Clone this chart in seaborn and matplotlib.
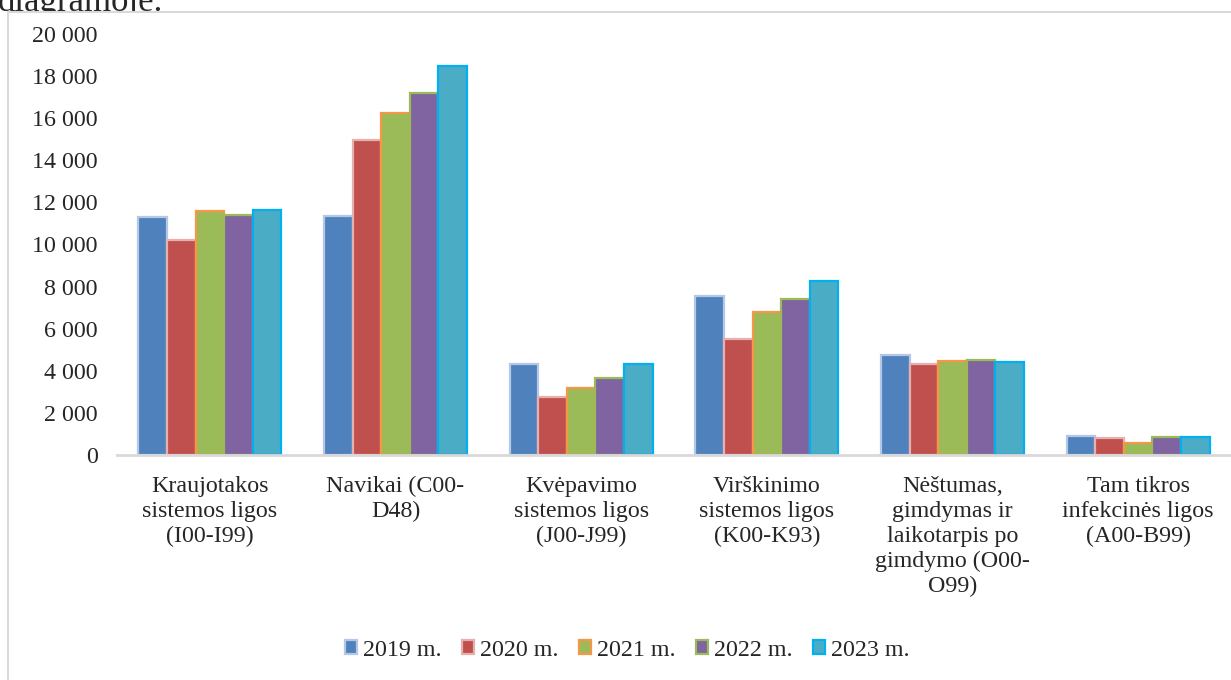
import numpy as np
import pandas as pd
import matplotlib.pyplot as plt
import seaborn as sns
from matplotlib.ticker import FuncFormatter
from matplotlib.patches import Rectangle

categories = [
    "Kraujotakos\nsistemos ligos\n(I00-I99)",
    "Navikai (C00-\nD48)",
    "Kvėpavimo\nsistemos ligos\n(J00-J99)",
    "Virškinimo\nsistemos ligos\n(K00-K93)",
    "Nėštumas,\ngimdymas ir\nlaikotarpis po\ngimdymo (O00-\nO99)",
    "Tam tikros\ninfekcinės ligos\n(A00-B99)",
]
years = ["2019 m.", "2020 m.", "2021 m.", "2022 m.", "2023 m."]

v2019 = [11300, 11350, 4300, 7550, 4750, 920]
v2020 = [10200, 14950, 2750, 5500, 4300, 810]
v2021 = [11600, 16250, 3200, 6800, 4450, 570]
v2022 = [11400, 17200, 3650, 7400, 4500, 855]
v2023 = [11650, 18500, 4300, 8250, 4400, 855]

fill_colors = ["#4F81BD", "#C0504D", "#9BBB59", "#8064A2", "#4BACC6"]
edge_colors = ["#B4C7E7", "#E6B0AE", "#F79646", "#9BBB59", "#00B0F0"]

rows = []
for y, vals in zip(years, [v2019, v2020, v2021, v2022, v2023]):
    for c, v in zip(categories, vals):
        rows.append({"category": c, "year": y, "value": v})
df = pd.DataFrame(rows)

sns.set_style("white")
plt.rcParams["font.family"] = ["Liberation Serif", "DejaVu Serif"]
fs = 17.3

fig = plt.figure(figsize=(12.31, 6.8), dpi=100)
ax = fig.add_axes([117 / 1231, 1 - 455 / 680, (1231 - 117) / 1231, 421 / 680])
ax.set_zorder(2)

sns.barplot(data=df, x="category", y="value", hue="year", order=categories,
            hue_order=years, palette=fill_colors, width=0.77, legend=False,
            ax=ax, saturation=1)

for cont, ec in zip(ax.containers, edge_colors):
    for p in cont:
        p.set_edgecolor(ec)
        p.set_linewidth(1.6)

ax.set_ylim(0, 20000)
ax.set_yticks(np.arange(0, 20001, 2000))
ax.yaxis.set_major_formatter(FuncFormatter(lambda v, _: f"{int(v):,}".replace(",", " ")))
ax.tick_params(axis="y", length=0, pad=14, labelsize=fs)
ax.tick_params(axis="x", length=0, pad=15, labelsize=fs)
ax.set_xlabel("")
ax.set_ylabel("")
for lab in ax.get_xticklabels():
    lab.set_linespacing(1.25)
    lab.set_va("top")

sns.despine(ax=ax, left=True, top=True, right=True)
ax.spines["bottom"].set_color("#D9D9D9")
ax.spines["bottom"].set_linewidth(2)

ax.legend(ax.containers, years, loc="center",
          bbox_to_anchor=(627 / 1231, 1 - 650 / 680), bbox_transform=fig.transFigure,
          ncol=5, frameon=False, fontsize=fs, handlelength=0.5,
          handleheight=0.5, handletextpad=0.25, columnspacing=0.85)

# outer chart frame (white, covers the cut-off caption above)
frame = Rectangle((8 / 1231, -0.01), 1.02, 1 - 12 / 680 + 0.01,
                  transform=fig.transFigure, facecolor="white",
                  edgecolor="#D9D9D9", linewidth=1.5, zorder=1)
fig.patches.append(frame)
fig.text(-0.002, 1 - 11 / 680, "diagramoje.", fontsize=25, va="baseline",
         ha="left", zorder=0.5)

fig.savefig("out.png", dpi=100)
